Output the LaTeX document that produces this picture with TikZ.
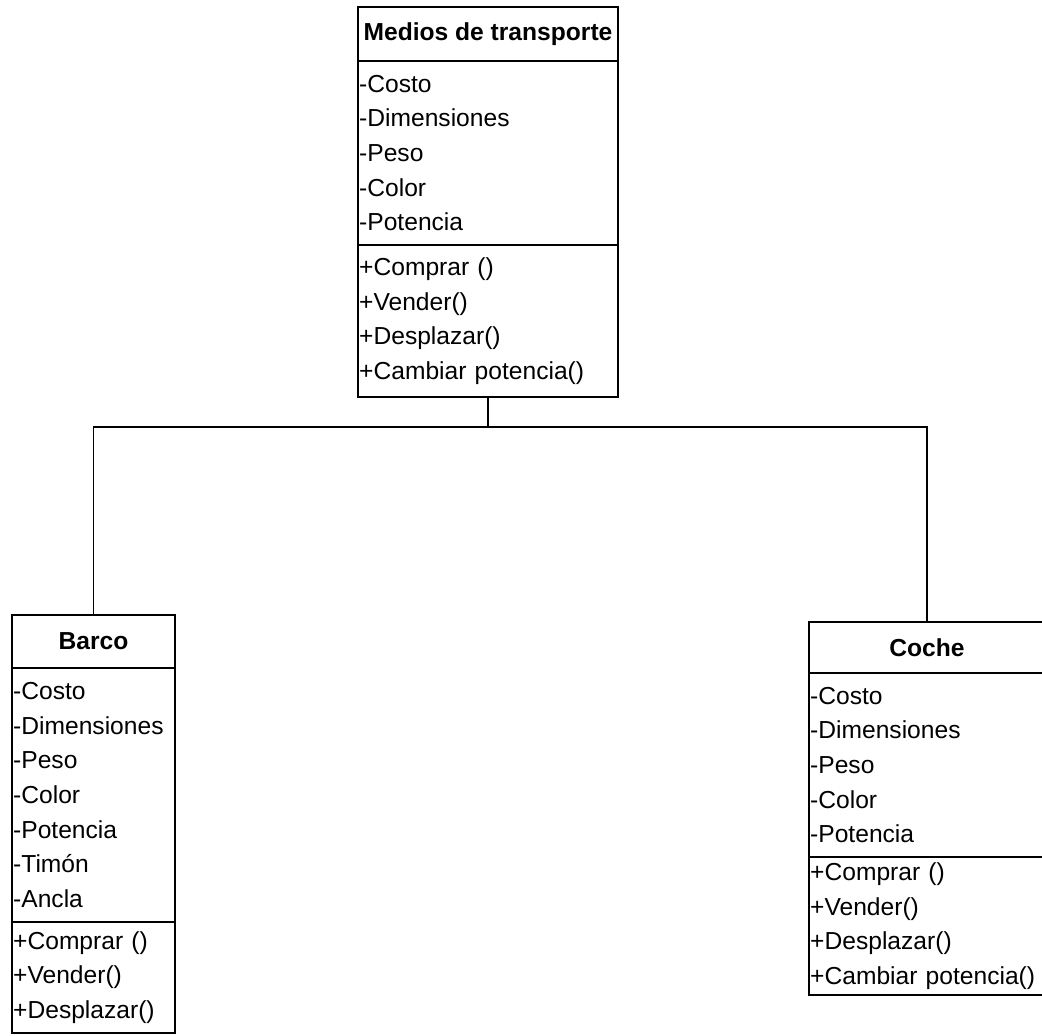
\documentclass[tikz,border=0pt]{standalone}
\usepackage{fontspec}
\setmainfont{Liberation Sans}
\begin{document}
\begin{tikzpicture}[x=0.5pt,y=-0.5pt,
  box/.style={draw, line width=0.9pt, rectangle, anchor=north west, outer sep=0pt, inner ysep=0pt, inner xsep=0.6pt},
  hdr/.style={box, font={\fontsize{12.3}{14}\selectfont\bfseries}, align=center},
  list/.style={box, font={\fontsize{12.3}{17.3}\selectfont}, align=left, text width=#1},
  link/.style={draw, line width=0.8pt}]
\useasboundingbox (0,0) rectangle (1042,1035);

% superclass
\node[hdr, minimum width=130pt, minimum height=27pt] (mtH) at (358,7) {Medios de transporte};
\node[list=128.8pt, minimum height=92pt] (mtA) at (mtH.south west)
  {-Costo\\-Dimensiones\\-Peso\\-Color\\-Potencia};
\node[list=128.8pt, minimum height=76pt] (mtO) at (mtA.south west)
  {+Comprar ()\\+Vender()\\+Desplazar()\\+Cambiar potencia()};

% subclass Barco
\node[hdr, minimum width=81.5pt, minimum height=26.5pt] (bH) at (12,615) {Barco};
\node[list=80.3pt, minimum height=127pt] (bA) at (bH.south west)
  {-Costo\\-Dimensiones\\-Peso\\-Color\\-Potencia\\-Timón\\-Ancla};
\node[list=80.3pt, minimum height=55.5pt] (bO) at (bA.south west)
  {+Comprar ()\\+Vender()\\+Desplazar()};

% subclass Coche
\node[hdr, minimum width=118pt, minimum height=25.5pt] (cH) at (809,622) {Coche};
\node[list=116.8pt, minimum height=92pt] (cA) at (cH.south west)
  {-Costo\\-Dimensiones\\-Peso\\-Color\\-Potencia};
\node[list=116.8pt, minimum height=69pt] (cO) at (cA.south west)
  {+Comprar ()\\+Vender()\\+Desplazar()\\+Cambiar potencia()};

% inheritance tree
\coordinate (bus) at (mtO.south |- 0,427);
\draw[link] (mtO.south) -- (bus);
\draw[link] (bH.north) |- (bus) -| (cH.north);
\end{tikzpicture}
\end{document}
